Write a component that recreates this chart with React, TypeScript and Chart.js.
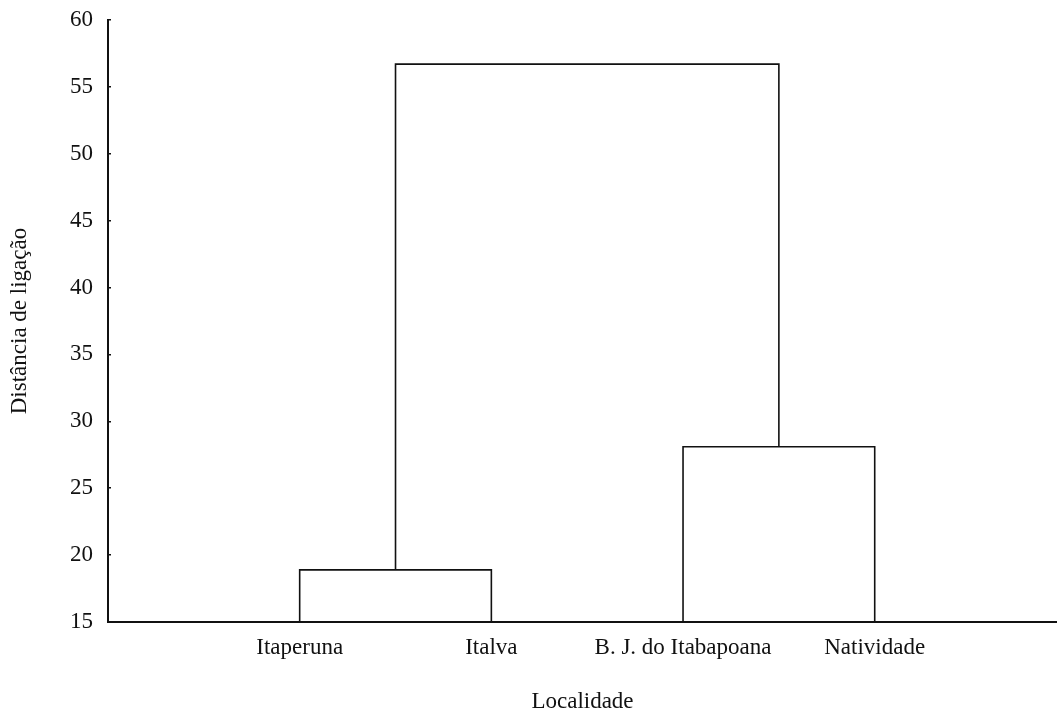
import React, { useEffect, useRef } from "react";
import { Chart, registerables } from "chart.js";
Chart.register(...registerables);

const leafNames = ["Itaperuna", "Italva", "B. J. do Itabapoana", "Natividade"];
const leafPositions = [1, 2, 3, 4];
const yTicks = [15, 20, 25, 30, 35, 40, 45, 50, 55, 60];
const baseLevel = 15;
const mergeItaperunaItalva = 18.9;
const mergeBJNatividade = 28.1;
const mergeTop = 56.7;

const FONT = "'Liberation Serif', 'Times New Roman', serif";

export default function App() {
  const ref = useRef<HTMLCanvasElement | null>(null);
  useEffect(() => {
    if (!ref.current) return;
    const [p1, p2, p3, p4] = leafPositions;
    const m1 = (p1 + p2) / 2;
    const m2 = (p3 + p4) / 2;
    const lineDs = (pts: { x: number; y: number }[]) => ({
      data: pts,
      showLine: true,
      borderColor: "#111",
      borderWidth: 1.6,
      pointRadius: 0,
      fill: false,
      tension: 0,
    });
    const chart = new Chart(ref.current, {
      type: "scatter",
      data: {
        datasets: [
          lineDs([
            { x: p1, y: baseLevel },
            { x: p1, y: mergeItaperunaItalva },
            { x: p2, y: mergeItaperunaItalva },
            { x: p2, y: baseLevel },
          ]),
          lineDs([
            { x: p3, y: baseLevel },
            { x: p3, y: mergeBJNatividade },
            { x: p4, y: mergeBJNatividade },
            { x: p4, y: baseLevel },
          ]),
          lineDs([
            { x: m1, y: mergeItaperunaItalva },
            { x: m1, y: mergeTop },
            { x: m2, y: mergeTop },
            { x: m2, y: mergeBJNatividade },
          ]),
        ],
      },
      options: {
        animation: false,
        responsive: false,
        maintainAspectRatio: false,
        layout: { padding: { top: 20, right: 0, left: 0, bottom: 0 } },
        plugins: { legend: { display: false }, tooltip: { enabled: false } },
        scales: {
          x: {
            type: "linear",
            min: 0,
            max: 4.951,
            afterBuildTicks: (s: any) => {
              s.ticks = leafPositions.map((v) => ({ value: v }));
            },
            afterFit: (s: any) => {
              s.height = 89;
              s.paddingLeft = 0;
              s.paddingRight = 0;
            },
            ticks: {
              autoSkip: false,
              maxRotation: 0,
              padding: 12,
              color: "#111",
              font: { family: FONT, size: 23 },
              callback: (v: any) => {
                const i = leafPositions.indexOf(Number(v));
                return i >= 0 ? leafNames[i] : "";
              },
            },
            grid: { display: false, drawTicks: false },
            border: { display: true, color: "#111", width: 2 },
            title: {
              display: true,
              text: "Localidade",
              color: "#111",
              font: { family: FONT, size: 23 },
              padding: { top: 0, bottom: -5 },
            },
          },
          y: {
            type: "linear",
            min: 15,
            max: 60,
            afterBuildTicks: (s: any) => {
              s.ticks = yTicks.map((v) => ({ value: v }));
            },
            afterFit: (s: any) => {
              s.width = 108;
              s.paddingTop = 0;
              s.paddingBottom = 0;
            },
            ticks: {
              padding: 18,
              color: "#111",
              font: { family: FONT, size: 23 },
            },
            grid: {
              display: true,
              drawOnChartArea: false,
              drawTicks: true,
              tickLength: -3,
              color: "#111",
              lineWidth: 1.5,
            },
            border: { display: true, color: "#111", width: 2 },
            title: {
              display: true,
              text: "Distância de ligação",
              color: "#111",
              font: { family: FONT, size: 23 },
              padding: { top: 6, bottom: 0 },
            },
          },
        },
      },
    } as any);
    return () => chart.destroy();
  }, []);
  return (
    <div style={{ position: "fixed", left: 0, top: 0, width: 1057, height: 711, background: "#fff" }}>
      <canvas ref={ref} width={1057} height={711} style={{ width: 1057, height: 711 }} />
    </div>
  );
}
